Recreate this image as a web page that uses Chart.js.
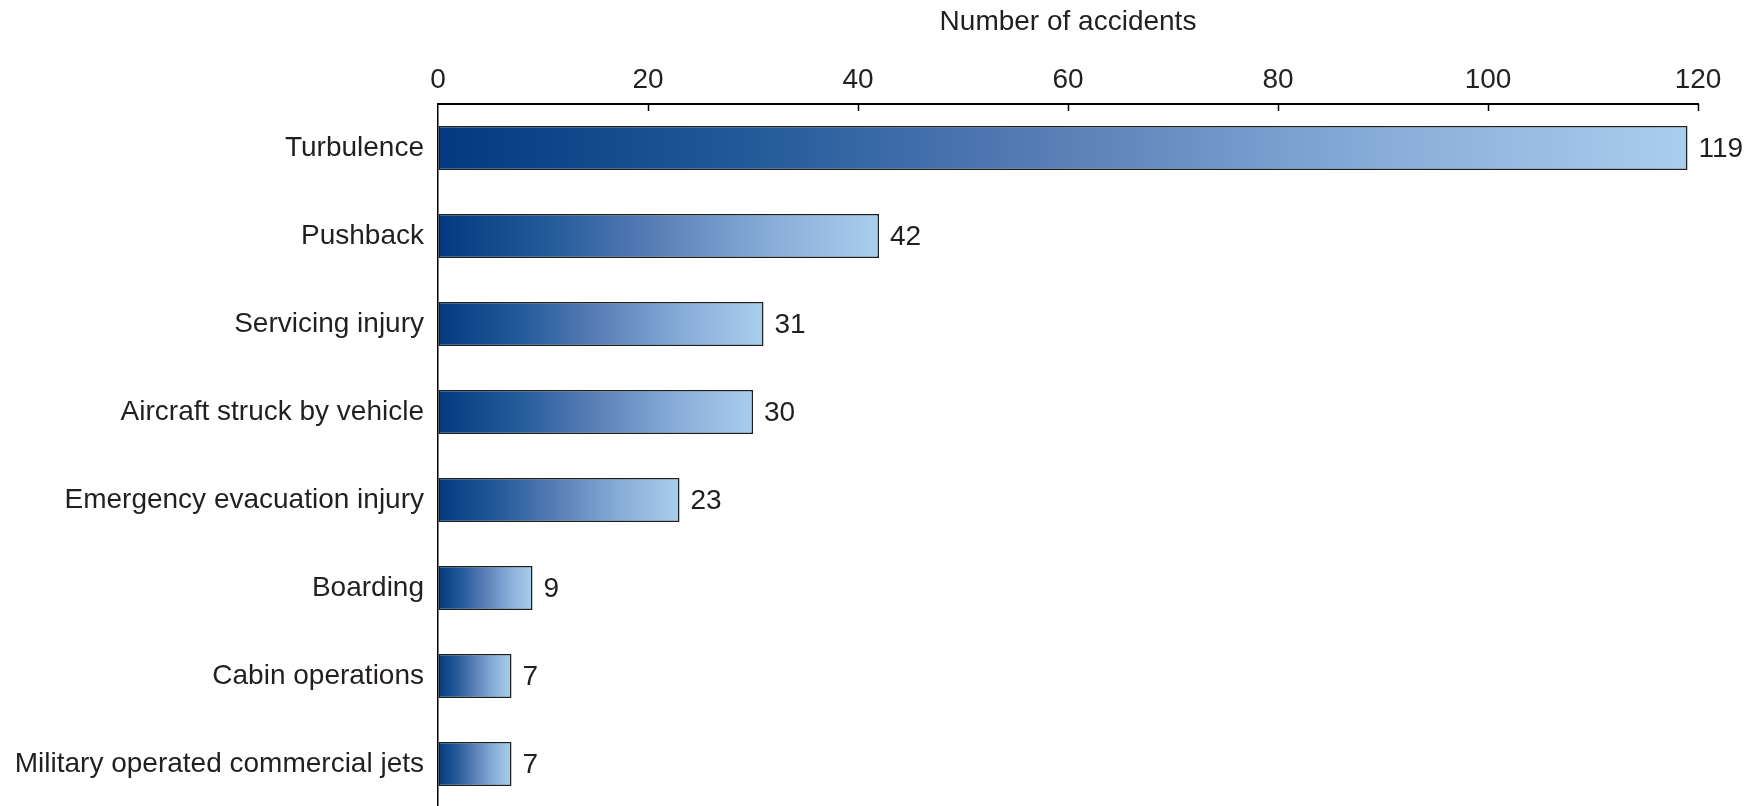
<!DOCTYPE html>
<html>
<head>
<meta charset="utf-8">
<script src="https://cdn.jsdelivr.net/npm/chart.js@4/dist/chart.umd.min.js"></script>
<style>
  html, body { margin: 0; padding: 0; background: #fff; overflow: hidden; }
  canvas { display: block; }
</style>
</head>
<body>
<canvas id="accidents" width="1758" height="810"></canvas>
<script>
// accident categories and counts
const categories = [
  'Turbulence',
  'Pushback',
  'Servicing injury',
  'Aircraft struck by vehicle',
  'Emergency evacuation injury',
  'Boarding',
  'Cabin operations',
  'Military operated commercial jets'
];
const accidents = [119, 42, 31, 30, 23, 9, 7, 7];
const axisTitle = 'Number of accidents';

const FONT = '"Liberation Sans", Arial, Helvetica, sans-serif';
const TEXT = '#231f20';

// each bar fades from dark to light blue along its own length
const barGradient = ctx => {
  const chart = ctx.chart;
  if (!chart.chartArea || ctx.type !== 'data') return '#3a64a2';
  const x = chart.scales.x;
  const x0 = x.getPixelForValue(0);
  const x1 = x.getPixelForValue(ctx.raw);
  const g = chart.ctx.createLinearGradient(x0, 0, x1, 0);
  g.addColorStop(0, '#033a7f');
  g.addColorStop(0.25, '#225a9a');
  g.addColorStop(0.5, '#5b7fb7');
  g.addColorStop(0.75, '#88acd8');
  g.addColorStop(1, '#a9ceed');
  return g;
};

// short tick marks hanging below the top axis
const tickMarks = {
  id: 'tickMarks',
  afterDraw(chart) {
    const { ctx, scales: { x }, chartArea } = chart;
    ctx.save();
    ctx.strokeStyle = '#000';
    ctx.lineWidth = 1.5;
    x.ticks.forEach(t => {
      if (t.value === 0) return;
      const px = Math.round(x.getPixelForValue(t.value)) + 0.5;
      ctx.beginPath();
      ctx.moveTo(px, chartArea.top);
      ctx.lineTo(px, chartArea.top + 7);
      ctx.stroke();
    });
    ctx.restore();
  }
};

// value printed just past the end of each bar
const valueLabels = {
  id: 'valueLabels',
  afterDatasetsDraw(chart) {
    const { ctx } = chart;
    const meta = chart.getDatasetMeta(0);
    ctx.save();
    ctx.font = '28px ' + FONT;
    ctx.fillStyle = TEXT;
    ctx.textAlign = 'left';
    ctx.textBaseline = 'middle';
    meta.data.forEach((bar, i) => {
      ctx.fillText(String(accidents[i]), bar.x + 11, bar.y + 1);
    });
    ctx.restore();
  }
};

new Chart(document.getElementById('accidents').getContext('2d'), {
  type: 'bar',
  data: {
    labels: categories,
    datasets: [{
      data: accidents,
      backgroundColor: barGradient,
      borderColor: '#1e1e1e',
      borderWidth: 1.5,
      borderSkipped: false,
      categoryPercentage: 1,
      barPercentage: 0.5
    }]
  },
  options: {
    indexAxis: 'y',
    responsive: false,
    animation: false,
    layout: { padding: { left: 0, right: 60, top: 0, bottom: 2 } },
    plugins: {
      legend: { display: false },
      tooltip: { enabled: false }
    },
    scales: {
      x: {
        position: 'top',
        min: 0,
        max: 120,
        ticks: {
          stepSize: 20,
          padding: 7,
          color: TEXT,
          font: { family: FONT, size: 28 }
        },
        grid: { drawOnChartArea: false, drawTicks: false },
        border: { color: '#000', width: 2 },
        title: {
          display: true,
          text: axisTitle,
          color: TEXT,
          font: { family: FONT, size: 28 },
          padding: { top: 5, bottom: 0 }
        },
        afterFit: s => { s.height = 104; }
      },
      y: {
        ticks: {
          padding: 14,
          color: TEXT,
          font: { family: FONT, size: 28 }
        },
        grid: { display: false, drawTicks: false },
        border: { color: '#000', width: 1.5 },
        // the category axis runs off the bottom edge, so no label padding there
        afterFit: s => {
          s.width = 438;
          s.paddingTop = 0;
          s.paddingBottom = 0;
        }
      }
    }
  },
  plugins: [tickMarks, valueLabels]
});
</script>
</body>
</html>
